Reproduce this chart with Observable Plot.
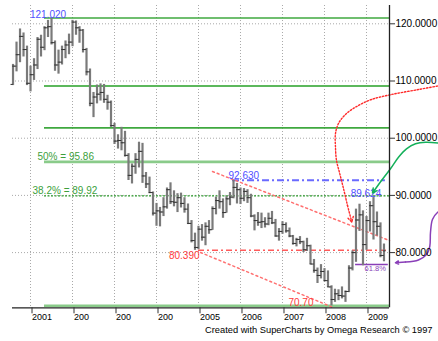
<!DOCTYPE html>
<html>
<head>
<meta charset="utf-8">
<script src="https://cdn.jsdelivr.net/npm/d3@7"></script>
<script src="https://cdn.jsdelivr.net/npm/@observablehq/plot@0.6"></script>
<style>
  html, body { margin: 0; padding: 0; background: #fff; overflow: hidden; }
  #chart svg { display: block; }
</style>
</head>
<body>
<div id="chart"></div>
<script>
// ---- Monthly bars (US Dollar Index), Aug 2000 - Jun 2009 ----
const months = [
  "2000-08","2000-09","2000-10","2000-11","2000-12",
  "2001-01","2001-02","2001-03","2001-04","2001-05","2001-06","2001-07","2001-08","2001-09","2001-10","2001-11","2001-12",
  "2002-01","2002-02","2002-03","2002-04","2002-05","2002-06","2002-07","2002-08","2002-09","2002-10","2002-11","2002-12",
  "2003-01","2003-02","2003-03","2003-04","2003-05","2003-06","2003-07","2003-08","2003-09","2003-10","2003-11","2003-12",
  "2004-01","2004-02","2004-03","2004-04","2004-05","2004-06","2004-07","2004-08","2004-09","2004-10","2004-11","2004-12",
  "2005-01","2005-02","2005-03","2005-04","2005-05","2005-06","2005-07","2005-08","2005-09","2005-10","2005-11","2005-12",
  "2006-01","2006-02","2006-03","2006-04","2006-05","2006-06","2006-07","2006-08","2006-09","2006-10","2006-11","2006-12",
  "2007-01","2007-02","2007-03","2007-04","2007-05","2007-06","2007-07","2007-08","2007-09","2007-10","2007-11","2007-12",
  "2008-01","2008-02","2008-03","2008-04","2008-05","2008-06","2008-07","2008-08","2008-09","2008-10","2008-11","2008-12",
  "2009-01","2009-02","2009-03","2009-04","2009-05","2009-06"
];
const open = [
  109.4,112.6,114.6,117.8,115.5,
  109.6,111.1,112.8,117.3,115.9,119.3,119.5,116.7,112.8,113.3,115.5,116.3,
  116.8,120.3,119.3,118.9,115.5,111.6,106.1,107.2,107.7,108.0,106.8,106.3,
  102.2,99.5,99.6,99.2,97.0,93.5,95.1,96.3,97.7,93.4,92.0,90.5,
  86.9,87.3,87.1,88.0,91.0,88.9,88.8,89.6,88.6,87.6,85.1,82.1,
  80.9,84.1,82.7,84.6,84.0,87.7,89.1,88.9,87.0,89.4,89.7,91.4,
  91.0,89.5,90.7,89.6,86.4,85.6,85.3,85.4,85.0,86.0,85.2,82.9,
  83.7,84.9,83.8,82.9,81.6,82.3,81.9,80.5,81.2,78.0,76.9,76.0,
  76.7,75.1,74.0,71.8,72.8,72.5,72.4,73.2,77.3,80.0,85.7,86.6,
  81.4,85.6,88.2,85.4,84.6,79.5
];
const high = [
  112.9,116.8,119.1,118.4,116.1,
  112.6,113.9,117.6,118.0,119.5,120.6,121.02,117.0,115.4,116.1,117.0,118.2,
  120.6,120.5,119.5,119.0,115.7,112.1,108.0,109.3,109.5,109.4,107.5,106.5,
  102.6,100.6,101.9,101.2,97.3,95.5,97.3,99.3,99.1,94.0,93.2,90.6,
  88.6,87.9,89.6,91.3,92.2,90.8,90.3,90.4,89.6,88.5,85.6,83.4,
  84.6,84.9,85.2,85.6,88.0,89.7,90.8,89.4,89.8,90.5,92.63,92.1,
  91.3,91.2,91.0,90.2,86.6,87.0,86.9,86.1,86.9,87.2,85.8,84.2,
  85.4,85.2,84.3,83.0,82.5,82.8,82.0,82.5,81.3,78.8,77.3,77.9,
  77.2,76.8,74.2,73.6,73.5,74.0,73.3,77.7,80.3,87.6,88.46,87.3,
  86.3,88.9,89.624,87.1,85.2,81.5
];
const low = [
  109.2,111.6,113.2,114.2,109.2,
  108.1,110.1,112.0,114.2,115.3,117.6,116.3,111.7,111.2,112.8,113.9,114.6,
  116.0,118.0,116.6,114.9,110.9,105.5,103.6,106.0,106.5,106.1,104.9,101.9,
  98.9,98.1,97.8,96.7,92.6,92.0,93.7,94.8,92.1,91.2,90.3,86.4,
  84.6,84.5,86.3,87.6,88.4,88.0,87.0,87.8,86.9,84.9,81.7,80.39,
  80.5,82.0,81.2,83.2,83.9,86.6,87.6,86.0,86.9,88.2,89.4,88.5,
  88.4,88.9,88.6,86.1,83.8,84.6,84.2,84.3,84.7,84.9,82.7,82.0,
  83.2,83.4,82.6,81.3,81.0,81.4,80.0,80.2,77.9,76.4,74.6,75.4,
  74.9,73.9,70.70,71.3,71.6,71.9,71.3,73.0,76.8,78.3,83.7,77.7,
  80.4,83.6,82.2,82.9,79.1,78.4
];
const close = [
  112.6,114.6,117.8,115.5,109.6,
  111.1,112.8,117.3,115.9,119.3,119.5,116.7,112.8,113.3,115.5,116.3,116.8,
  120.3,119.3,118.9,115.5,111.6,106.1,107.2,107.7,108.0,106.8,106.3,102.2,
  99.5,99.6,99.2,97.0,93.5,95.1,96.3,97.7,93.4,92.0,90.5,86.9,
  87.3,87.1,88.0,91.0,88.9,88.8,89.6,88.6,87.6,85.1,82.1,80.9,
  84.1,82.7,84.6,84.0,87.7,89.1,88.9,87.0,89.4,89.7,91.4,91.0,
  89.5,90.7,89.6,86.4,85.6,85.3,85.4,85.0,86.0,85.2,82.9,83.7,
  84.9,83.8,82.9,81.6,82.3,81.9,80.5,81.2,78.0,76.9,76.0,76.7,
  75.1,74.0,71.8,72.8,72.5,72.4,73.2,77.3,80.0,85.7,86.6,81.4,
  85.6,88.2,85.4,84.6,79.5,80.3
];

// ---- Axes ----
const yearTicks = [2001, 2002, 2003, 2004, 2005, 2006, 2007, 2008, 2009];
const yearLabels = ["2001", "200", "200", "200", "2005", "2006", "2007", "2008", "2009"];
const priceTicks = [80, 90, 100, 110, 120];
const xDomain = [2000.571, 2009.548];
const yDomain = [70.35, 123.2];

// ---- Fibonacci levels (121.020 high -> 70.70 low) ----
const fibLevels = [121.02, 109.14, 101.80, 95.86, 89.92, 70.70];
const fibLabels = ["50% = 95.86", "38.2% = 89.92"];
const fibStart = 2001.333;

// ---- Pivot labels ----
const pivotLabels = ["121.020", "92.630", "89.624", "80.390", "70.70"];
const pivotDates  = [2001.5, 2005.833, 2009.167, 2004.917, 2008.167];
const pivotValues = [121.02, 92.63, 89.624, 80.39, 70.70];

// ---- Drawn levels and channel ----
const resistance = { value: 92.63, from: 2005.81, to: 2009.45 };
const support    = { value: 80.39, from: 2005.0,  to: 2009.5 };
const retrace    = { value: 77.93, from: 2008.74, to: 2009.52, label: "61.8%" };
const upperChannelT = [2005.333, 2009.548];
const upperChannelV = [94.18, 82.11];
const lowerChannelT = [2005.048, 2008.19];
const lowerChannelV = [80.02, 70.45];

// ---- Hand-drawn arrows (date, value) ----
const redArrowT = [2010.762, 2010.238, 2009.595, 2009.119, 2008.810, 2008.524, 2008.333, 2008.262, 2008.262, 2008.286, 2008.357, 2008.452, 2008.548, 2008.650];
const redArrowV = [109.21, 108.51, 107.64, 106.77, 105.72, 104.32, 102.57, 100.82, 98.37, 96.10, 94.00, 91.21, 88.23, 85.35];
const greenArrowT = [2010.762, 2010.405, 2010.167, 2009.952, 2009.762, 2009.571, 2009.357, 2009.143];
const greenArrowV = [99.13, 99.30, 99.02, 98.15, 96.68, 94.65, 92.60, 90.42];
const purpleArrowT = [2010.762, 2010.690, 2010.571, 2010.524, 2010.507, 2010.429, 2010.238, 2009.929, 2009.690];
const purpleArrowV = [87.27, 87.01, 85.79, 83.51, 81.07, 79.67, 78.71, 78.36, 78.22];

const caption = "Created with SuperCharts by Omega Research \u00A9 1997";

// ---- Build ----
const W = 438, H = 341;
const mL = 12, mR = 49, mT = 5, mB = 33.7;
const pxYear = (xDomain[1] - xDomain[0]) / (W - mL - mR); // years per pixel

const bars = months.map((m, i) => ({
  t: +m.slice(0, 4) + (+m.slice(5, 7) - 1) / 12,
  o: open[i], h: high[i], l: low[i], c: close[i]
}));

const pts = (T, V) => T.map((t, i) => ({ t, v: V[i] }));
const curveBody = (T, V) => pts(T, V).slice(0, -1);
const headSeg = (T, V) => [{ t1: T[T.length - 2], v1: V[V.length - 2], t2: T[T.length - 1], v2: V[V.length - 1] }];

const grid = { stroke: "#a9a9a9", strokeDasharray: "1,2", strokeWidth: 1 };
const red = "#ff3a3a", blue = "#4f4fff", green = "#3c9f3c", purple = "#8a3fb8";

const chart = Plot.plot({
  width: W, height: H,
  marginLeft: mL, marginRight: mR, marginTop: mT, marginBottom: mB,
  x: { type: "linear", domain: xDomain },
  y: { domain: yDomain },
  style: { fontFamily: "'Liberation Sans', Arial, sans-serif", fontSize: "10px", background: "#fff", color: "#000" },
  marks: [
    // grid
    Plot.ruleX(yearTicks, grid),
    Plot.ruleY(priceTicks, grid),

    // fibonacci lines
    Plot.ruleY([fibLevels[0]], { x1: fibStart, x2: xDomain[1], stroke: "#3fa83f", strokeWidth: 1.6 }),
    Plot.ruleY([fibLevels[1]], { x1: fibStart, x2: xDomain[1], stroke: "#5cb85c", strokeWidth: 2 }),
    Plot.ruleY([fibLevels[2]], { x1: fibStart, x2: xDomain[1], stroke: "#3fa83f", strokeWidth: 1.6 }),
    Plot.ruleY([fibLevels[3]], { x1: fibStart, x2: xDomain[1], stroke: "#8acb8a", strokeWidth: 2.6 }),
    Plot.ruleY([fibLevels[4]], { x1: fibStart, x2: xDomain[1], stroke: "#2f9c2f", strokeWidth: 1.3, strokeDasharray: "2,1.5" }),
    Plot.ruleY([fibLevels[5]], { x1: fibStart, x2: xDomain[1], stroke: "#8acb8a", strokeWidth: 2.6 }),

    // drawn levels
    Plot.ruleY([resistance.value], { x1: resistance.from, x2: resistance.to, stroke: "#6a6aff", strokeWidth: 2, strokeDasharray: "7,3,2,3" }),
    Plot.ruleY([support.value], { x1: support.from, x2: support.to, stroke: "#ff5a5a", strokeWidth: 1.5, strokeDasharray: "6,3,2,3" }),
    Plot.ruleY([retrace.value], { x1: retrace.from, x2: retrace.to, stroke: purple, strokeWidth: 1.5 }),

    // channel
    Plot.line(pts(upperChannelT, upperChannelV), { x: "t", y: "v", stroke: "#ff7070", strokeWidth: 1.5, strokeDasharray: "2,3" }),
    Plot.line(pts(lowerChannelT, lowerChannelV), { x: "t", y: "v", stroke: "#ff7070", strokeWidth: 1.5, strokeDasharray: "2,3" }),

    // OHLC bars
    Plot.ruleX(bars, { x: "t", y1: "l", y2: "h", stroke: "#7a7a7a", strokeWidth: 2.2 }),
    Plot.ruleY(bars, { y: "o", x1: d => d.t - 2 * pxYear, x2: d => d.t + 0.3 * pxYear, stroke: "#333", strokeWidth: 1 }),
    Plot.ruleY(bars, { y: "c", x1: d => d.t - 0.3 * pxYear, x2: d => d.t + 2 * pxYear, stroke: "#333", strokeWidth: 1 }),

    // labels
    Plot.text([fibLabels[0]], { x: fibStart, y: fibLevels[3], textAnchor: "start", dx: -7, lineAnchor: "bottom", dy: -2, fill: green, fontSize: 10 }),
    Plot.text([fibLabels[1]], { x: fibStart, y: fibLevels[4], textAnchor: "start", dx: -12, lineAnchor: "bottom", dy: -1.5, fill: green, fontSize: 10 }),
    Plot.text([0], { x: pivotDates[0], y: pivotValues[0], text: () => pivotLabels[0], textAnchor: "middle", dx: -3.5, lineAnchor: "bottom", dy: 0, fill: blue, fontSize: 10 }),
    Plot.text([1], { x: pivotDates[1], y: pivotValues[1], text: () => pivotLabels[1], textAnchor: "start", dx: -5, lineAnchor: "bottom", dy: -1, fill: blue, fontSize: 10 }),
    Plot.text([2], { x: pivotDates[2], y: pivotValues[2], text: () => pivotLabels[2], textAnchor: "middle", dx: -7.5, lineAnchor: "bottom", dy: -1, fill: blue, fontSize: 10 }),
    Plot.text([3], { x: pivotDates[3], y: pivotValues[3], text: () => pivotLabels[3], textAnchor: "end", dx: 4.5, lineAnchor: "top", dy: 2, fill: red, fontSize: 10 }),
    Plot.text([4], { x: pivotDates[4], y: pivotValues[4], text: () => pivotLabels[4], textAnchor: "end", dx: -18, lineAnchor: "bottom", dy: 0.5, fill: red, fontSize: 10 }),
    Plot.text([retrace.label], { x: retrace.from, y: retrace.value, textAnchor: "start", dx: 9, lineAnchor: "top", dy: 1, fill: purple, fontSize: 7.5 }),

    // hand-drawn arrows
    Plot.line(curveBody(redArrowT, redArrowV), { x: "t", y: "v", curve: "catmull-rom", stroke: "#ff2a2a", strokeWidth: 1.4, strokeDasharray: "1.4,1.8" }),
    Plot.arrow(headSeg(redArrowT, redArrowV), { x1: "t1", y1: "v1", x2: "t2", y2: "v2", stroke: "#ff2a2a", strokeWidth: 1.4, strokeDasharray: "1.4,1.8", headLength: 7, headAngle: 60 }),
    Plot.line(curveBody(greenArrowT, greenArrowV), { x: "t", y: "v", curve: "catmull-rom", stroke: "#14b05a", strokeWidth: 1.5 }),
    Plot.arrow(headSeg(greenArrowT, greenArrowV), { x1: "t1", y1: "v1", x2: "t2", y2: "v2", stroke: "#14b05a", strokeWidth: 1.5, headLength: 8, headAngle: 55 }),
    Plot.line(curveBody(purpleArrowT, purpleArrowV), { x: "t", y: "v", curve: "catmull-rom", stroke: purple, strokeWidth: 1.5 }),
    Plot.arrow(headSeg(purpleArrowT, purpleArrowV), { x1: "t1", y1: "v1", x2: "t2", y2: "v2", stroke: purple, strokeWidth: 1.5, headLength: 8, headAngle: 55 }),

    // axis lines
    Plot.ruleY([yDomain[0]], { stroke: "#222", strokeWidth: 1.3 }),
    Plot.ruleX([xDomain[1]], { stroke: "#222", strokeWidth: 1.3 }),

    // axes
    Plot.axisX(yearTicks, { anchor: "bottom", tickSize: 6, tickPadding: -0.5, textAnchor: "start", dx: 1.5, fontSize: 9, stroke: "#333", tickFormat: d => yearLabels[yearTicks.indexOf(d)] }),
    Plot.axisY(priceTicks, { anchor: "right", tickSize: 5, tickPadding: 1, fontSize: 10, stroke: "#333", tickFormat: d3.format(".4f") }),

    // caption
    Plot.text([caption], { frameAnchor: "bottom-right", textAnchor: "end", dx: 43, dy: 25, fontSize: 9.3, fill: "#000" })
  ]
});

document.getElementById("chart").appendChild(chart);
</script>
</body>
</html>
